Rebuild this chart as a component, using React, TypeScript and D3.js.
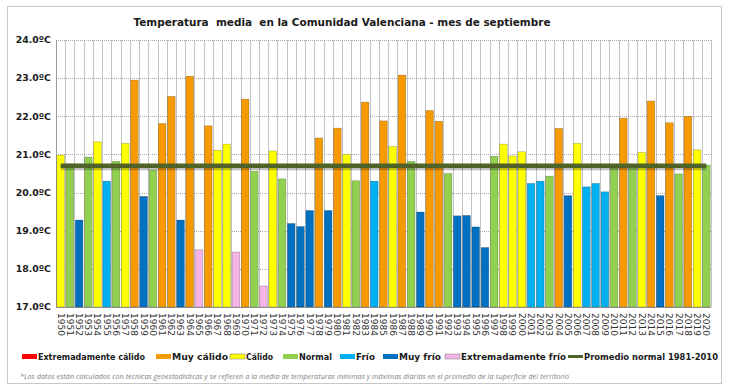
import React, { useEffect, useRef } from "react";
import * as d3 from "d3";

const years = d3.range(1950, 2021);

const temps = [
  20.98, 20.75, 19.28, 20.93, 21.33, 20.3, 20.82, 21.29, 22.95, 19.9,
  20.59, 21.81, 22.52, 19.28, 23.05, 18.5, 21.75, 21.11, 21.27, 18.44,
  22.45, 20.56, 17.55, 21.09, 20.36, 19.19, 19.11, 19.53, 21.43, 19.53,
  21.69, 21.0, 20.31, 22.37, 20.3, 21.88, 21.21, 23.08, 20.82, 19.49,
  22.15, 21.87, 20.5, 19.39, 19.4, 19.1, 18.56, 20.95, 21.27, 20.96,
  21.07, 20.24, 20.3, 20.43, 21.68, 19.92, 21.29, 20.15, 20.24, 20.02,
  20.64, 21.95, 20.72, 21.05, 22.4, 19.92, 21.83, 20.49, 22.0, 21.12,
  20.72,
];

// category per year: EC extremely warm, MC very warm, C warm, N normal, F cold, MF very cold, EF extremely cold
const classes = [
  "C", "N", "MF", "N", "C", "F", "N", "C", "MC", "MF",
  "N", "MC", "MC", "MF", "MC", "EF", "MC", "C", "C", "EF",
  "MC", "N", "EF", "C", "N", "MF", "MF", "MF", "MC", "MF",
  "MC", "C", "N", "MC", "F", "MC", "C", "MC", "N", "MF",
  "MC", "MC", "N", "MF", "MF", "MF", "MF", "N", "C", "C",
  "C", "F", "F", "N", "MC", "MF", "C", "F", "F", "F",
  "N", "MC", "N", "C", "MC", "MF", "MC", "N", "MC", "C",
  "N",
];

const normal = 20.7;
const yTicks = [17, 18, 19, 20, 21, 22, 23, 24];

const legendKeys = ["EC", "MC", "C", "N", "F", "MF", "EF"];
const legendLabels = [
  "Extremadamente cálido",
  "Muy cálido",
  "Cálido",
  "Normal",
  "Frío",
  "Muy frío",
  "Extremadamente frío",
];
const lineLabel = "Promedio normal 1981-2010";

const colors = {
  EC: "#ff0000",
  MC: "#f79a00",
  C: "#ffff00",
  N: "#92d050",
  F: "#00b0f0",
  MF: "#0070c0",
  EF: "#f4b4e6",
};

const title = "Temperatura  media  en la Comunidad Valenciana - mes de septiembre";
const note =
  "*Los datos están calculados con técnicas geoestadísticas y se refieren a la media de temperaturas mínimas y máximas diarias en el promedio de la superficie del territorio";

export default function App() {
  const svgRef = useRef(null);
  const width = 731;
  const height = 392;
  const left = 56;
  const right = 711;
  const top = 40;
  const bottom = 307;

  useEffect(() => {
    const svg = d3.select(svgRef.current);
    svg.selectAll("*").remove();

    const x = d3.scaleBand().domain(years.map(String)).range([left, right]).paddingInner(0.17).paddingOuter(0.09);
    const y = d3.scaleLinear().domain([17, 24]).range([bottom, top]);

    svg.append("rect").attr("width", width).attr("height", height).attr("fill", "#fff");
    svg
      .append("rect")
      .attr("x", 7.5)
      .attr("y", 6.5)
      .attr("width", 714)
      .attr("height", 377)
      .attr("fill", "none")
      .attr("stroke", "#c8c8c8");

    svg
      .append("text")
      .attr("x", 342)
      .attr("y", 26)
      .attr("text-anchor", "middle")
      .attr("font-family", "DejaVu Sans")
      .attr("font-weight", "bold")
      .attr("font-size", 10.5)
      .attr("textLength", 417)
      .attr("lengthAdjust", "spacingAndGlyphs")
      .attr("fill", "#1a1a1a")
      .style("white-space", "pre")
      .text(title);

    // vertical grid at band boundaries
    const step = x.step();
    const x0 = x(years[0].toString()) - step * x.paddingInner() / 2;
    svg
      .append("g")
      .selectAll("line")
      .data(d3.range(years.length + 1))
      .join("line")
      .attr("x1", (i) => Math.round(x0 + i * step) + 0.5)
      .attr("x2", (i) => Math.round(x0 + i * step) + 0.5)
      .attr("y1", top)
      .attr("y2", bottom)
      .attr("stroke", "#c4c4c4")
      .attr("stroke-width", 1);

    svg
      .append("g")
      .selectAll("line")
      .data(yTicks)
      .join("line")
      .attr("x1", left)
      .attr("x2", right)
      .attr("y1", (d) => Math.round(y(d)) + 0.5)
      .attr("y2", (d) => Math.round(y(d)) + 0.5)
      .attr("stroke", (d) => (d === 17 ? "#9a9a9a" : "#a8a8a8"))
      .attr("stroke-dasharray", (d) => (d === 17 ? null : "1,1"));

    svg
      .append("line")
      .attr("x1", left + 0.5)
      .attr("x2", left + 0.5)
      .attr("y1", top)
      .attr("y2", bottom)
      .attr("stroke", "#9a9a9a");

    svg
      .append("g")
      .selectAll("text")
      .data(yTicks)
      .join("text")
      .attr("x", 51)
      .attr("y", (d) => y(d))
      .attr("dy", "0.35em")
      .attr("text-anchor", "end")
      .attr("font-family", "DejaVu Sans")
      .attr("font-weight", "bold")
      .attr("font-size", 9.4)
      .attr("fill", "#1a1a1a")
      .text((d) => `${d.toFixed(1)}ºC`);

    svg
      .append("g")
      .selectAll("rect")
      .data(years)
      .join("rect")
      .attr("x", (d) => x(String(d)))
      .attr("width", x.bandwidth())
      .attr("y", (d, i) => y(temps[i]))
      .attr("height", (d, i) => bottom - y(temps[i]))
      .attr("fill", (d, i) => colors[classes[i]])
      .attr("stroke", "rgba(0,0,0,0.3)")
      .attr("stroke-width", 0.6);

    svg
      .append("g")
      .selectAll("text")
      .data(years)
      .join("text")
      .attr("transform", (d) => `translate(${x(String(d)) + x.bandwidth() / 2},313) rotate(90)`)
      .attr("dy", "0.35em")
      .attr("font-family", "DejaVu Sans")
      .attr("font-size", 9)
      .attr("fill", "#333")
      .text((d) => d);

    // normal line with shadow
    const line = d3
      .line()
      .x((d) => x(String(d)) + x.bandwidth() / 2)
      .y(() => y(normal));
    const endYears = [years[0], years[years.length - 1]];
    svg
      .append("path")
      .datum(endYears)
      .attr("d", line)
      .attr("transform", "translate(0,2)")
      .attr("stroke", "rgba(0,0,0,0.25)")
      .attr("stroke-width", 5)
      .attr("fill", "none");
    svg
      .append("path")
      .datum(endYears)
      .attr("d", line)
      .attr("stroke", "#4f6228")
      .attr("stroke-width", 4.5)
      .attr("fill", "none");

    // legend
    const legendX = [22, 156, 230, 283, 340, 383, 445];
    const legendW = [107, 56, 27, 33, 19, 42, 105];
    const ly = 357;
    const lg = svg.append("g");
    legendKeys.forEach((k, i) => {
      lg.append("rect")
        .attr("x", legendX[i])
        .attr("y", ly - 3)
        .attr("width", 15)
        .attr("height", 5)
        .attr("fill", colors[k])
        .attr("stroke", k === "C" || k === "EF" ? "#777" : "none")
        .attr("stroke-width", 0.5);
      lg.append("text")
        .attr("x", legendX[i] + 16)
        .attr("y", ly)
        .attr("dy", "0.35em")
        .attr("font-family", "DejaVu Sans")
        .attr("font-weight", "bold")
        .attr("font-size", 8.3)
        .attr("textLength", legendW[i])
        .attr("lengthAdjust", "spacingAndGlyphs")
        .attr("fill", "#1a1a1a")
        .text(legendLabels[i]);
    });
    lg.append("line")
      .attr("x1", 568)
      .attr("x2", 583)
      .attr("y1", ly - 0.5)
      .attr("y2", ly - 0.5)
      .attr("stroke", "#4f6228")
      .attr("stroke-width", 3);
    lg.append("text")
      .attr("x", 584)
      .attr("y", ly)
      .attr("dy", "0.35em")
      .attr("font-family", "DejaVu Sans")
      .attr("font-weight", "bold")
      .attr("font-size", 8.3)
      .attr("textLength", 134)
      .attr("lengthAdjust", "spacingAndGlyphs")
      .attr("fill", "#1a1a1a")
      .text(lineLabel);

    svg
      .append("text")
      .attr("x", 20)
      .attr("y", 376)
      .attr("dy", "0.35em")
      .attr("font-family", "Open Sans")
      .attr("font-style", "italic")
      .attr("font-size", 7.5)
      .attr("textLength", 549)
      .attr("lengthAdjust", "spacingAndGlyphs")
      .attr("fill", "#7f7f7f")
      .text(note);
  }, []);

  return (
    <svg
      ref={svgRef}
      width={width}
      height={height}
      style={{ position: "absolute", left: 0, top: 0 }}
    />
  );
}
